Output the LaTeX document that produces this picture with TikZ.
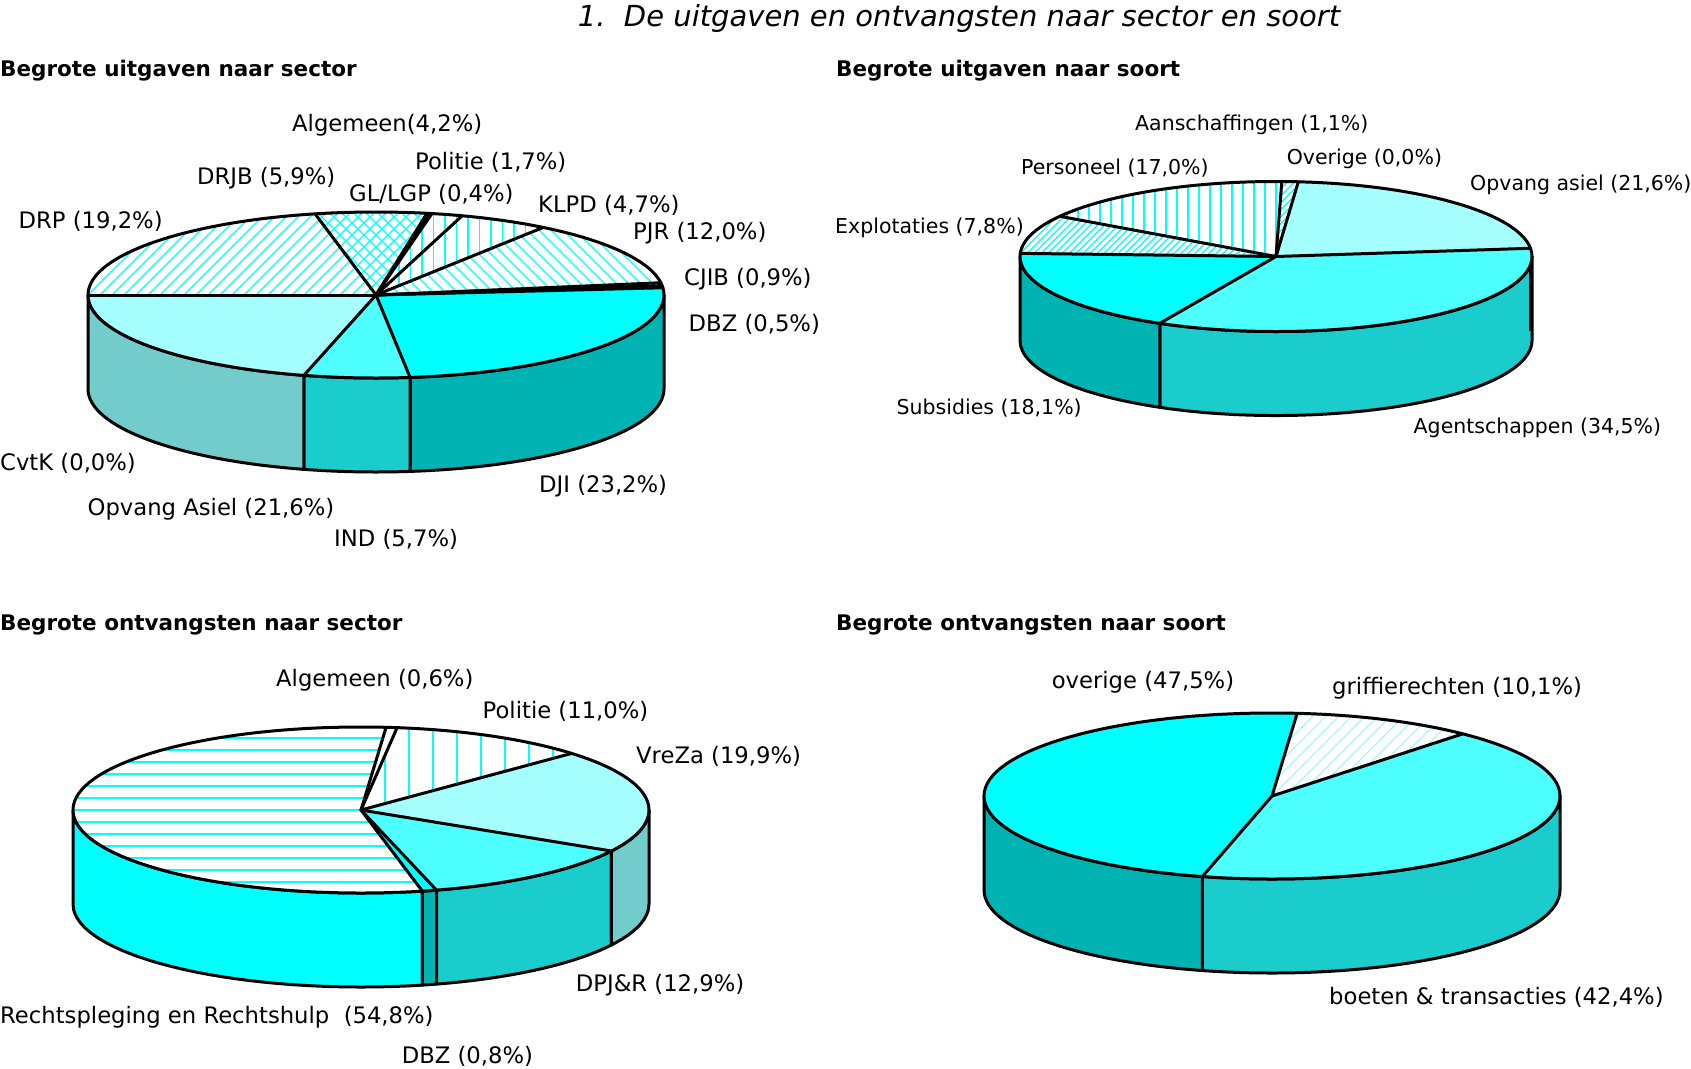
\documentclass[tikz,border=0pt]{standalone}
\usepackage{fontspec}
\setmainfont{DejaVu Sans}
\definecolor{cTopA}{HTML}{00FFFF}
\definecolor{cTopB}{HTML}{4DFFFF}
\definecolor{cTopC}{HTML}{A6FFFF}
\definecolor{cSideA}{HTML}{00B3B3}
\definecolor{cSideB}{HTML}{1ACCCC}
\definecolor{cSideC}{HTML}{73CCCC}
\definecolor{hatchcol}{HTML}{00FFFF}
\definecolor{hatchlight}{HTML}{9FF3FF}

\newcommand\pieset[5]{\def\pcx{#1}\def\pcy{#2}\def\prx{#3}\def\pry{#4}\def\pdp{#5}}
\newcommand\slicetop[3]{%
  \path[#3] (\pcx,\pcy) -- ({\pcx+\prx*cos(#1)},{\pcy+\pry*sin(#1)}) arc[start angle=#1,end angle=#2,x radius=\prx,y radius=\pry] -- cycle;}
\newcommand\sideface[3]{%
  \path[fill=#3,draw=black,pieline] ({\pcx+\prx*cos(#1)},{\pcy+\pry*sin(#1)}) arc[start angle=#1,end angle=#2,x radius=\prx,y radius=\pry] -- ++(0,-\pdp) arc[start angle=#2,end angle=#1,x radius=\prx,y radius=\pry] -- cycle;}
\newcommand\hatchV[2]{\foreach \k in {-60,...,60}{\draw[#2] ({\pcx+\k*#1},{\pcy-\pry-5}) -- ++(0,{2*\pry+10});}}
\newcommand\hatchH[2]{\foreach \k in {-12,...,12}{\draw[#2] ({\pcx-\prx-5},{\pcy+\k*#1}) -- ++({2*\prx+10},0);}}
\newcommand\hatchD[2]{\foreach \k in {-60,...,60}{\draw[#2] ({\pcx+\k*#1-150},{\pcy-150}) -- ++(300,300);}}
\newcommand\hatchB[2]{\foreach \k in {-60,...,60}{\draw[#2] ({\pcx+\k*#1-150},{\pcy+150}) -- ++(300,-300);}}
\newcommand\hatchslice[3]{%
  \begin{scope}
    \clip (\pcx,\pcy) -- ({\pcx+\prx*cos(#1)},{\pcy+\pry*sin(#1)}) arc[start angle=#1,end angle=#2,x radius=\prx,y radius=\pry] -- cycle;
    \fill[white] ({\pcx-\prx-5},{\pcy-\pry-5}) rectangle ({\pcx+\prx+5},{\pcy+\pry+5});
    #3
  \end{scope}}
\newcommand\pieoutline[1]{%
  \draw[pieline] (\pcx,\pcy) ellipse [x radius=\prx, y radius=\pry];
  \foreach \a in {#1}{\draw[pieline] (\pcx,\pcy) -- ({\pcx+\prx*cos(\a)},{\pcy+\pry*sin(\a)});}}

\begin{document}
\begin{tikzpicture}[x=1pt,y=1pt,
  pieline/.style={line width=3pt,line join=round,line cap=round},
  hl/.style={draw=hatchcol,line width=1.2pt},
  hll/.style={draw=hatchlight,line width=1.1pt},
  lbl/.style={font=\fontsize{22.7}{26}\selectfont,inner sep=0pt,anchor=west},
  lblsm/.style={font=\fontsize{20.5}{24}\selectfont,inner sep=0pt,anchor=west},
  hdr/.style={font=\bfseries\fontsize{21.5}{25}\selectfont,inner sep=0pt,anchor=base west},
  ttl/.style={font=\itshape\fontsize{29}{33}\selectfont,inner sep=0pt,anchor=base}]
\useasboundingbox (0,0) rectangle (1691,-1068);
\fill[white] (0,0) rectangle (1691,-1068);

% ---------- titles ----------
\node[ttl] (title) at (959,-26.7) {1.\ \ De uitgaven en ontvangsten naar sector en soort};
\node[hdr] (h1) at (0,-76.7) {Begrote uitgaven naar sector};
\node[hdr] (h2) at (836,-76.7) {Begrote uitgaven naar soort};
\node[hdr] (h3) at (0,-630.7) {Begrote ontvangsten naar sector};
\node[hdr] (h4) at (836,-630.7) {Begrote ontvangsten naar soort};

% ---------- pie 1 ----------
\pieset{376}{-295}{288}{83}{94}
\sideface{0}{-83.2}{cSideA}
\sideface{-83.2}{-104.5}{cSideB}
\sideface{-104.5}{-180}{cSideC}
\slicetop{5}{-83.2}{fill=cTopA}
\slicetop{-83.2}{-104.5}{fill=cTopB}
\slicetop{-104.5}{-180}{fill=cTopC}
\hatchslice{180}{102.2}{\hatchD{12}{hl}}
\hatchslice{102.2}{79.8}{\hatchD{12}{hl}\hatchB{12}{hl}}
\slicetop{79.8}{78.8}{fill=white}
\hatchslice{78.8}{72.6}{\hatchV{11.5}{hl}}
\hatchslice{72.6}{54.5}{\hatchV{11.5}{hl}}
\hatchslice{54.5}{8.5}{\hatchB{12}{hl}}
\slicetop{8.5}{5}{fill=white}
\pieoutline{5,-83.2,-104.5,180,102.2,79.8,79.3,78.8,72.6,54.5,8.5,6.5}

\node[lbl] (p1alg) at (292,-125.5) {Algemeen(4,2\%)};
\node[lbl] (p1pol) at (415,-162.5) {Politie (1,7\%)};
\node[lbl] (p1drjb) at (197,-178) {DRJB (5,9\%)};
\node[lbl] (p1gl) at (349,-194.5) {GL/LGP (0,4\%)};
\node[lbl] (p1klpd) at (538,-205) {KLPD (4,7\%)};
\node[lbl] (p1drp) at (18.5,-221) {DRP (19,2\%)};
\node[lbl] (p1pjr) at (633,-233) {PJR (12,0\%)};
\node[lbl] (p1cjib) at (684,-279) {CJIB (0,9\%)};
\node[lbl] (p1dbz) at (688.5,-324) {DBZ (0,5\%)};
\node[lbl] (p1cvtk) at (0,-463) {CvtK (0,0\%)};
\node[lbl] (p1dji) at (539,-486) {DJI (23,2\%)};
\node[lbl] (p1oa) at (87.5,-509) {Opvang Asiel (21,6\%)};
\node[lbl] (p1ind) at (334,-539) {IND (5,7\%)};

% ---------- pie 2 ----------
\pieset{1276}{-256.5}{256}{75}{84}
\sideface{0}{-117}{cSideB}
\sideface{-117}{-180}{cSideA}
\slicetop{85}{6.3}{fill=cTopC}
\slicetop{6.3}{-117}{fill=cTopB}
\slicetop{-117}{-182.4}{fill=cTopA}
\hatchslice{177.6}{147.6}{\hatchD{7}{hl}}
\hatchslice{147.6}{88.7}{\hatchV{11}{hl}}
\hatchslice{88.7}{85}{\hatchD{7}{hl}}
\pieoutline{85,6.3,-117,177.6,147.6,88.7}
\draw[line width=3pt] (1530.5,-264) -- (1530.5,-331);

\node[lblsm] (p2aan) at (1135,-125) {Aanschaffingen (1,1\%)};
\node[lblsm] (p2ove) at (1286.6,-159) {Overige (0,0\%)};
\node[lblsm] (p2per) at (1021,-168) {Personeel (17,0\%)};
\node[lblsm] (p2opv) at (1470,-185) {Opvang asiel (21,6\%)};
\node[lblsm] (p2exp) at (835,-228) {Explotaties (7,8\%)};
\node[lblsm] (p2sub) at (896.5,-408) {Subsidies (18,1\%)};
\node[lblsm] (p2age) at (1413.5,-428) {Agentschappen (34,5\%)};

% ---------- pie 3 ----------
\pieset{361}{-810}{288}{83}{94}
\sideface{-77.7}{-180}{cTopA}
\sideface{-74.8}{-77.7}{cSideA}
\sideface{-29.6}{-74.8}{cSideB}
\sideface{0}{-29.6}{cSideC}
\hatchslice{-77.7}{-275}{\hatchH{12}{hl}}
\slicetop{85}{82.8}{fill=white}
\hatchslice{82.8}{43}{\hatchV{24}{hl}}
\slicetop{43}{-29.6}{fill=cTopC}
\slicetop{-29.6}{-74.8}{fill=cTopB}
\slicetop{-74.8}{-77.7}{fill=cTopA}
\pieoutline{85,82.8,43,-29.6,-74.8,-77.7}

\node[lbl] (p3alg) at (276,-680) {Algemeen (0,6\%)};
\node[lbl] (p3pol) at (482.5,-711) {Politie (11,0\%)};
\node[lbl] (p3vre) at (636,-756.7) {VreZa (19,9\%)};
\node[lbl] (p3dpj) at (575.7,-985) {DPJ\&R (12,9\%)};
\node[lbl] (p3rec) at (0,-1017.7) {Rechtspleging en Rechtshulp\ \ (54,8\%)};
\node[lbl] (p3dbz) at (401.6,-1056.7) {DBZ (0,8\%)};

% ---------- pie 4 ----------
\pieset{1272}{-796}{288}{83}{94}
\sideface{0}{-104}{cSideB}
\sideface{-104}{-180}{cSideA}
\hatchslice{85}{48.5}{\hatchD{13}{hll}}
\slicetop{48.5}{-104}{fill=cTopB}
\slicetop{-104}{-275}{fill=cTopA}
\pieoutline{85,48.5,-104}

\node[lbl] (p4ove) at (1051.6,-682.5) {overige (47,5\%)};
\node[lbl] (p4gri) at (1332,-688) {griffierechten (10,1\%)};
\node[lbl] (p4boe) at (1329,-997.5) {boeten \& transacties (42,4\%)};
\end{tikzpicture}
\end{document}
